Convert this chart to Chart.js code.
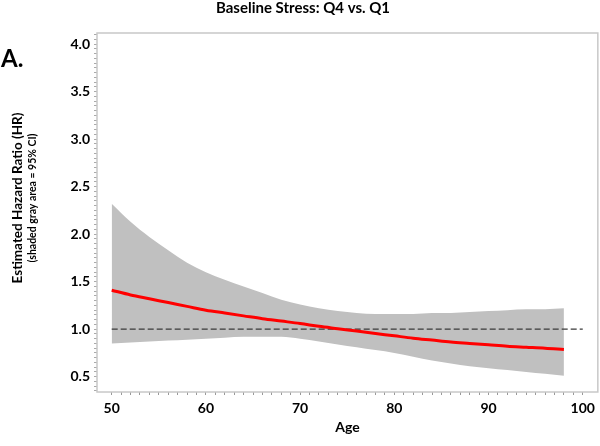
<!DOCTYPE html>
<html>
<head>
<meta charset="utf-8">
<script src="https://cdn.jsdelivr.net/npm/chart.js@4.4.1/dist/chart.umd.min.js"></script>
<style>
  html, body { margin: 0; padding: 0; background: #fff; }
  #wrap { width: 600px; height: 446px; position: relative; }
</style>
</head>
<body>
<div id="wrap"><canvas id="c"></canvas></div>
<script>
// ---- data ----
const ages = [50, 52, 54, 56, 58, 60, 62, 64, 66, 68, 70, 72, 74, 76, 78, 80, 82, 84, 86, 88, 90, 92, 94, 96, 98];
const hrEstimate = [1.41, 1.36, 1.32, 1.28, 1.24, 1.20, 1.17, 1.14, 1.11, 1.085, 1.06, 1.03, 1.005, 0.98, 0.955, 0.93, 0.905, 0.885, 0.865, 0.85, 0.835, 0.82, 0.81, 0.80, 0.786];
const ciUpper = [2.32, 2.13, 1.97, 1.83, 1.70, 1.60, 1.52, 1.45, 1.38, 1.31, 1.26, 1.22, 1.19, 1.17, 1.16, 1.16, 1.16, 1.17, 1.17, 1.18, 1.19, 1.20, 1.21, 1.21, 1.22];
const ciLower = [0.85, 0.86, 0.87, 0.88, 0.89, 0.90, 0.91, 0.92, 0.92, 0.92, 0.90, 0.87, 0.84, 0.81, 0.78, 0.75, 0.71, 0.67, 0.64, 0.61, 0.59, 0.57, 0.55, 0.53, 0.51];
const refAges = [50, 100];
const refHR = [1.0, 1.0];
const xMajorTicks = [50, 60, 70, 80, 90, 100];
const yMajorTicks = ['0.5', '1.0', '1.5', '2.0', '2.5', '3.0', '3.5', '4.0'];
const chartTitle = 'Baseline Stress: Q4 vs. Q1';
const panelLabel = 'A.';
const yTitle = 'Estimated Hazard Ratio (HR)';
const ySubTitle = '(shaded gray area = 95% CI)';
const xTitle = 'Age';

const FONT = 'Lato, "Open Sans", "DejaVu Sans", sans-serif';
const pts = (xs, ys) => xs.map((x, i) => ({ x: x, y: ys[i] }));

const textPlugin = {
  id: 'texts',
  beforeDraw(chart) {
    const ctx = chart.ctx;
    ctx.save();
    ctx.fillStyle = '#000';
    ctx.textAlign = 'center';
    ctx.textBaseline = 'middle';
    ctx.font = 'bold 15px ' + FONT;
    ctx.fillText(chartTitle, 303, 8);
    ctx.textAlign = 'left';
    ctx.textBaseline = 'alphabetic';
    ctx.font = 'bold 24px ' + FONT;
    ctx.fillText(panelLabel, 1, 67);
    ctx.translate(18, 198);
    ctx.rotate(-Math.PI / 2);
    ctx.textAlign = 'center';
    ctx.textBaseline = 'middle';
    ctx.font = 'bold 13.5px ' + FONT;
    ctx.fillText(yTitle, 0, 0);
    ctx.font = 'bold 10.5px ' + FONT;
    ctx.fillText(ySubTitle, 0, 15);
    ctx.restore();
  },
  afterDatasetsDraw(chart) {
    const { ctx, chartArea: a } = chart;
    ctx.save();
    ctx.strokeStyle = '#c8c8c8';
    ctx.lineWidth = 1.5;
    ctx.strokeRect(a.left, a.top, a.right - a.left, a.bottom - a.top);
    ctx.restore();
  }
};

new Chart(document.getElementById('c'), {
  type: 'line',
  data: {
    datasets: [
      { data: pts(ages, ciLower), borderWidth: 0, pointRadius: 0, fill: false, cubicInterpolationMode: 'monotone', order: 4 },
      { data: pts(ages, ciUpper), borderWidth: 0, pointRadius: 0, fill: '-1', backgroundColor: '#c0c0c0', cubicInterpolationMode: 'monotone', order: 3 },
      { data: pts(refAges, refHR), borderColor: '#3a3a3a', borderWidth: 1.4, borderDash: [6, 3], pointRadius: 0, fill: false, order: 2 },
      { data: pts(ages, hrEstimate), borderColor: '#ff0000', borderWidth: 3, pointRadius: 0, fill: false, cubicInterpolationMode: 'monotone', order: 1 }
    ]
  },
  options: {
    responsive: true,
    maintainAspectRatio: false,
    animation: false,
    layout: { padding: { top: 33, right: 2, left: 0, bottom: 0 } },
    plugins: { legend: { display: false }, tooltip: { enabled: false }, title: { display: false } },
    scales: {
      x: {
        type: 'linear', min: 48.44, max: 101.6,
        afterBuildTicks(s) {
          const t = [];
          for (let v = xMajorTicks[0]; v <= xMajorTicks[xMajorTicks.length - 1]; v++) t.push({ value: v });
          s.ticks = t;
        },
        afterFit(s) { s.height = 54; },
        ticks: {
          autoSkip: false, maxRotation: 0, padding: 5, color: '#000',
          font: { family: FONT, size: 14, weight: 'bold' },
          callback: (v) => xMajorTicks.includes(v) ? String(v) : ''
        },
        grid: { display: true, drawOnChartArea: false, drawTicks: true, tickLength: 3, color: '#999' },
        border: { display: false },
        title: { display: true, text: xTitle, color: '#000', font: { family: FONT, size: 14, weight: 'bold' }, padding: { top: 0, bottom: 10 } }
      },
      y: {
        type: 'linear', min: 0.339, max: 4.116,
        afterBuildTicks(s) {
          const t = [];
          for (let k = 7; k <= 82; k++) t.push({ value: k / 20 });
          s.ticks = t;
        },
        afterFit(s) { s.width = 97; },
        ticks: {
          autoSkip: false, padding: 4, color: '#000',
          font: { family: FONT, size: 14, weight: 'bold' },
          callback: (v) => { const s = v.toFixed(1); return (Math.round(v * 20) % 10 === 0 && yMajorTicks.includes(s)) ? s : ''; }
        },
        grid: { display: true, drawOnChartArea: false, drawTicks: true, tickLength: 3, color: '#aaa' },
        border: { display: false }
      }
    }
  },
  plugins: [textPlugin]
});
</script>
</body>
</html>
